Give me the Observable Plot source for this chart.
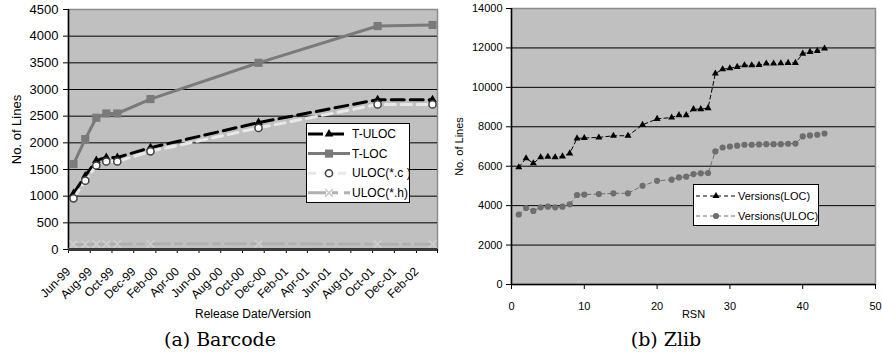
<!DOCTYPE html>
<html>
<head>
<meta charset="utf-8">
<script src="https://cdn.jsdelivr.net/npm/d3@7"></script>
<script src="https://cdn.jsdelivr.net/npm/@observablehq/plot@0.6"></script>
<style>
  body { margin: 0; background: #fff; }
  #wrap { position: relative; width: 882px; height: 359px; overflow: hidden; font-family: "Liberation Sans", Arial, sans-serif; }
  .panel { position: absolute; top: 0; }
  .caption { position: absolute; font-family: "DejaVu Serif", "Liberation Serif", serif; font-size: 19px; color: #000; white-space: nowrap; transform: translateX(-50%); }
  .legend { position: absolute; }
</style>
</head>
<body>
<div id="wrap"></div>
<script>
// ---------- Panel (a) Barcode ----------
const releaseDates = ["1999-06-15","1999-07-18","1999-08-18","1999-09-15","1999-10-16","2000-01-17","2000-11-15","2001-10-15","2002-03-18"];
const tULOC = [1050, 1380, 1670, 1725, 1725, 1910, 2380, 2810, 2810];
const tLOC  = [1600, 2070, 2470, 2550, 2550, 2820, 3500, 4190, 4210];
const ulocC = [960, 1290, 1575, 1650, 1650, 1840, 2280, 2720, 2720];
const ulocH = [95, 95, 100, 100, 100, 105, 110, 100, 100];
const barcodeTickLabels = ["Jun-99","Aug-99","Oct-99","Dec-99","Feb-00","Apr-00","Jun-00","Aug-00","Oct-00","Dec-00","Feb-01","Apr-01","Jun-01","Aug-01","Oct-01","Dec-01","Feb-02"];
const barcodeAxisEnd = "Apr-02";
const barcodeYTicks = [0, 500, 1000, 1500, 2000, 2500, 3000, 3500, 4000, 4500];
const barcodeSeries = ["T-ULOC", "T-LOC", "ULOC(*.c )", "ULOC(*.h)"];

// ---------- Panel (b) Zlib ----------
const rsn = [1,2,3,4,5,6,7,8,9,10,12,14,16,18,20,22,23,24,25,26,27,28,29,30,31,32,33,34,35,36,37,38,39,40,41,42,43];
const versionsLOC = [5950,6400,6150,6450,6480,6450,6500,6650,7410,7430,7460,7545,7545,8100,8400,8470,8590,8590,8895,8895,8945,10700,10920,10970,11040,11120,11120,11140,11205,11205,11220,11240,11240,11710,11800,11850,11970];
const versionsULOC = [3550,3880,3730,3915,3950,3915,3950,4070,4540,4560,4590,4625,4625,5010,5260,5315,5430,5470,5600,5640,5655,6750,6950,7000,7040,7090,7090,7105,7120,7120,7120,7140,7150,7510,7560,7595,7660];
const zlibXTicks = [0, 10, 20, 30, 40, 50];
const zlibYTicks = [0, 2000, 4000, 6000, 8000, 10000, 12000, 14000];
const zlibSeries = ["Versions(LOC)", "Versions(ULOC)"];

const wrap = document.getElementById("wrap");
const parseMon = d3.utcParse("%b-%y");
const tickDates = barcodeTickLabels.map(parseMon);
const endDate = parseMon(barcodeAxisEnd);
const labelByTime = new Map(tickDates.map((d, i) => [d.getTime(), barcodeTickLabels[i]]));
const xDomainA = [tickDates[0], endDate];
const intFmt = d3.format("d");

const barcode = releaseDates.map((s, i) => ({
  date: d3.utcParse("%Y-%m-%d")(s), tULOC: tULOC[i], tLOC: tLOC[i], ulocC: ulocC[i], ulocH: ulocH[i]
}));

const fontStack = "'Liberation Sans', Arial, sans-serif";

const plotA = Plot.plot({
  width: 441, height: 320,
  marginLeft: 68, marginRight: 4, marginTop: 9, marginBottom: 71,
  style: { fontFamily: fontStack, background: "none", color: "#000", overflow: "visible" },
  x: { type: "utc", domain: xDomainA },
  y: { domain: [0, 4500] },
  marks: [
    Plot.frame({ fill: "#c0c0c0", stroke: "#8c8c8c", strokeWidth: 1.5 }),
    Plot.ruleY(barcodeYTicks.slice(1, -1), { stroke: "#000", strokeWidth: 1 }),
    Plot.axisY({ ticks: barcodeYTicks, tickFormat: intFmt, tickSize: 5, tickPadding: 5, fontSize: 13, label: "No. of Lines", labelArrow: "none", labelAnchor: "center", labelOffset: 57 }),
    Plot.axisX({
      ticks: tickDates.concat([endDate]),
      tickFormat: d => labelByTime.get(d.getTime()) || "",
      tickRotate: -45, tickSize: 4, tickPadding: 16, fontSize: 12,
      label: "Release Date/Version", labelArrow: "none", labelAnchor: "center", labelOffset: 68
    }),
    Plot.ruleX([xDomainA[0]], { stroke: "#000", strokeWidth: 1.5 }),
    // T-ULOC
    Plot.line(barcode, { x: "date", y: "tULOC", stroke: "#000", strokeWidth: 3, strokeDasharray: "13,6" }),
    Plot.dot(barcode, { x: "date", y: "tULOC", symbol: "triangle", r: 3.2, fill: "#000" }),
    // T-LOC
    Plot.line(barcode, { x: "date", y: "tLOC", stroke: "#7a7a7a", strokeWidth: 3 }),
    Plot.dot(barcode, { x: "date", y: "tLOC", symbol: "square", r: 4.6, fill: "#7a7a7a" }),
    // ULOC(*.c)
    Plot.line(barcode, { x: "date", y: "ulocC", stroke: "#e8e8e8", strokeWidth: 3, strokeDasharray: "10,6" }),
    Plot.dot(barcode, { x: "date", y: "ulocC", symbol: "circle", r: 3.6, fill: "#fff", stroke: "#404040", strokeWidth: 1.5 }),
    // ULOC(*.h)
    Plot.line(barcode, { x: "date", y: "ulocH", stroke: "#b0b0b0", strokeWidth: 3, strokeDasharray: "20,6,6,6" }),
    Plot.dot(barcode, { x: "date", y: "ulocH", symbol: "times", r: 3.6, stroke: "#cfcfcf", strokeWidth: 1.5 }),
    Plot.ruleY([0], { stroke: "#3a3a3a", strokeWidth: 3 })
  ]
});
plotA.classList.add("panel");
plotA.style.left = "0px";
wrap.appendChild(plotA);

const zlib = rsn.map((r, i) => ({ rsn: r, loc: versionsLOC[i], uloc: versionsULOC[i] }));

const plotB = Plot.plot({
  width: 441, height: 320,
  marginLeft: 70, marginRight: 7, marginTop: 8, marginBottom: 36,
  style: { fontFamily: fontStack, background: "none", color: "#000", overflow: "visible" },
  x: { domain: [0, 50] },
  y: { domain: [0, 14000] },
  marks: [
    Plot.frame({ fill: "#c0c0c0", stroke: "#8c8c8c", strokeWidth: 1.5 }),
    Plot.ruleY(zlibYTicks.slice(1, -1), { stroke: "#000", strokeWidth: 1 }),
    Plot.axisY({ ticks: zlibYTicks, tickFormat: intFmt, tickSize: 5, tickPadding: 4, fontSize: 11, label: "No. of Lines", labelArrow: "none", labelAnchor: "center", labelOffset: 56 }),
    Plot.axisX({ ticks: zlibXTicks, tickFormat: intFmt, tickSize: 5, tickPadding: 13, fontSize: 11, label: "RSN", labelArrow: "none", labelAnchor: "center", labelOffset: 33 }),
    Plot.ruleX([0], { stroke: "#000", strokeWidth: 1.5 }),
    Plot.ruleY([0], { stroke: "#000", strokeWidth: 1.5 }),
    Plot.line(zlib, { x: "rsn", y: "loc", stroke: "#000", strokeWidth: 1, strokeDasharray: "4,3" }),
    Plot.dot(zlib, { x: "rsn", y: "loc", symbol: "triangle", r: 2.6, fill: "#000" }),
    Plot.line(zlib, { x: "rsn", y: "uloc", stroke: "#6e6e6e", strokeWidth: 1, strokeDasharray: "4,3" }),
    Plot.dot(zlib, { x: "rsn", y: "uloc", symbol: "circle", r: 3.1, fill: "#6e6e6e" })
  ]
});
plotB.classList.add("panel");
plotB.style.left = "441px";
wrap.appendChild(plotB);

// ---------- Legends ----------
function legend(left, top, w, h, rows, opts) {
  const svg = d3.create("svg").attr("class", "legend").attr("width", w).attr("height", h)
    .style("left", left + "px").style("top", top + "px");
  svg.append("rect").attr("x", 0.5).attr("y", 0.5).attr("width", w - 1).attr("height", h - 1)
    .attr("fill", "#fff").attr("stroke", "#000");
  rows.forEach((r, i) => {
    const y = opts.y0 + i * opts.dy;
    const g = svg.append("g");
    g.append("line").attr("x1", opts.x1).attr("x2", opts.x2).attr("y1", y).attr("y2", y)
      .attr("stroke", r.stroke).attr("stroke-width", r.width).attr("stroke-dasharray", r.dash || null);
    const sym = d3.symbol().type(r.symbol).size(r.size)();
    g.append("path").attr("d", sym).attr("transform", `translate(${opts.xm},${y})`)
      .attr("fill", r.fill || "none").attr("stroke", r.mstroke || "none").attr("stroke-width", r.msw || 0);
    g.append("text").attr("x", opts.xt).attr("y", y).attr("dy", "0.35em")
      .attr("font-family", fontStack).attr("font-size", opts.fs).attr("fill", "#000").text(r.label);
  });
  wrap.appendChild(svg.node());
}

legend(306, 123, 104, 80, [
  { label: barcodeSeries[0], stroke: "#000", width: 3, dash: "15,6", symbol: d3.symbolTriangle, size: 32, fill: "#000" },
  { label: barcodeSeries[1], stroke: "#7a7a7a", width: 3, symbol: d3.symbolSquare, size: 66, fill: "#7a7a7a" },
  { label: barcodeSeries[2], stroke: "#e8e8e8", width: 3, dash: "8,7", symbol: d3.symbolCircle, size: 40, fill: "#fff", mstroke: "#404040", msw: 1.5 },
  { label: barcodeSeries[3], stroke: "#b0b0b0", width: 3, dash: "18,6,6,6", symbol: d3.symbolTimes, size: 40, mstroke: "#c8c8c8", msw: 1.5 }
], { x1: 2, x2: 44, xm: 23, xt: 46, y0: 11, dy: 19.6, fs: 12 });

legend(693, 184, 126, 42, [
  { label: zlibSeries[0], stroke: "#000", width: 1, dash: "4,3", symbol: d3.symbolTriangle, size: 22, fill: "#000" },
  { label: zlibSeries[1], stroke: "#6e6e6e", width: 1, dash: "4,3", symbol: d3.symbolCircle, size: 30, fill: "#6e6e6e" }
], { x1: 3, x2: 44, xm: 23, xt: 45, y0: 12, dy: 20, fs: 11 });

// ---------- Captions ----------
function caption(text, cx, top) {
  const d = document.createElement("div");
  d.className = "caption";
  d.textContent = text;
  d.style.left = cx + "px";
  d.style.top = top + "px";
  wrap.appendChild(d);
}
caption("(a) Barcode", 220, 328);
caption("(b) Zlib", 666, 328);
</script>
</body>
</html>
